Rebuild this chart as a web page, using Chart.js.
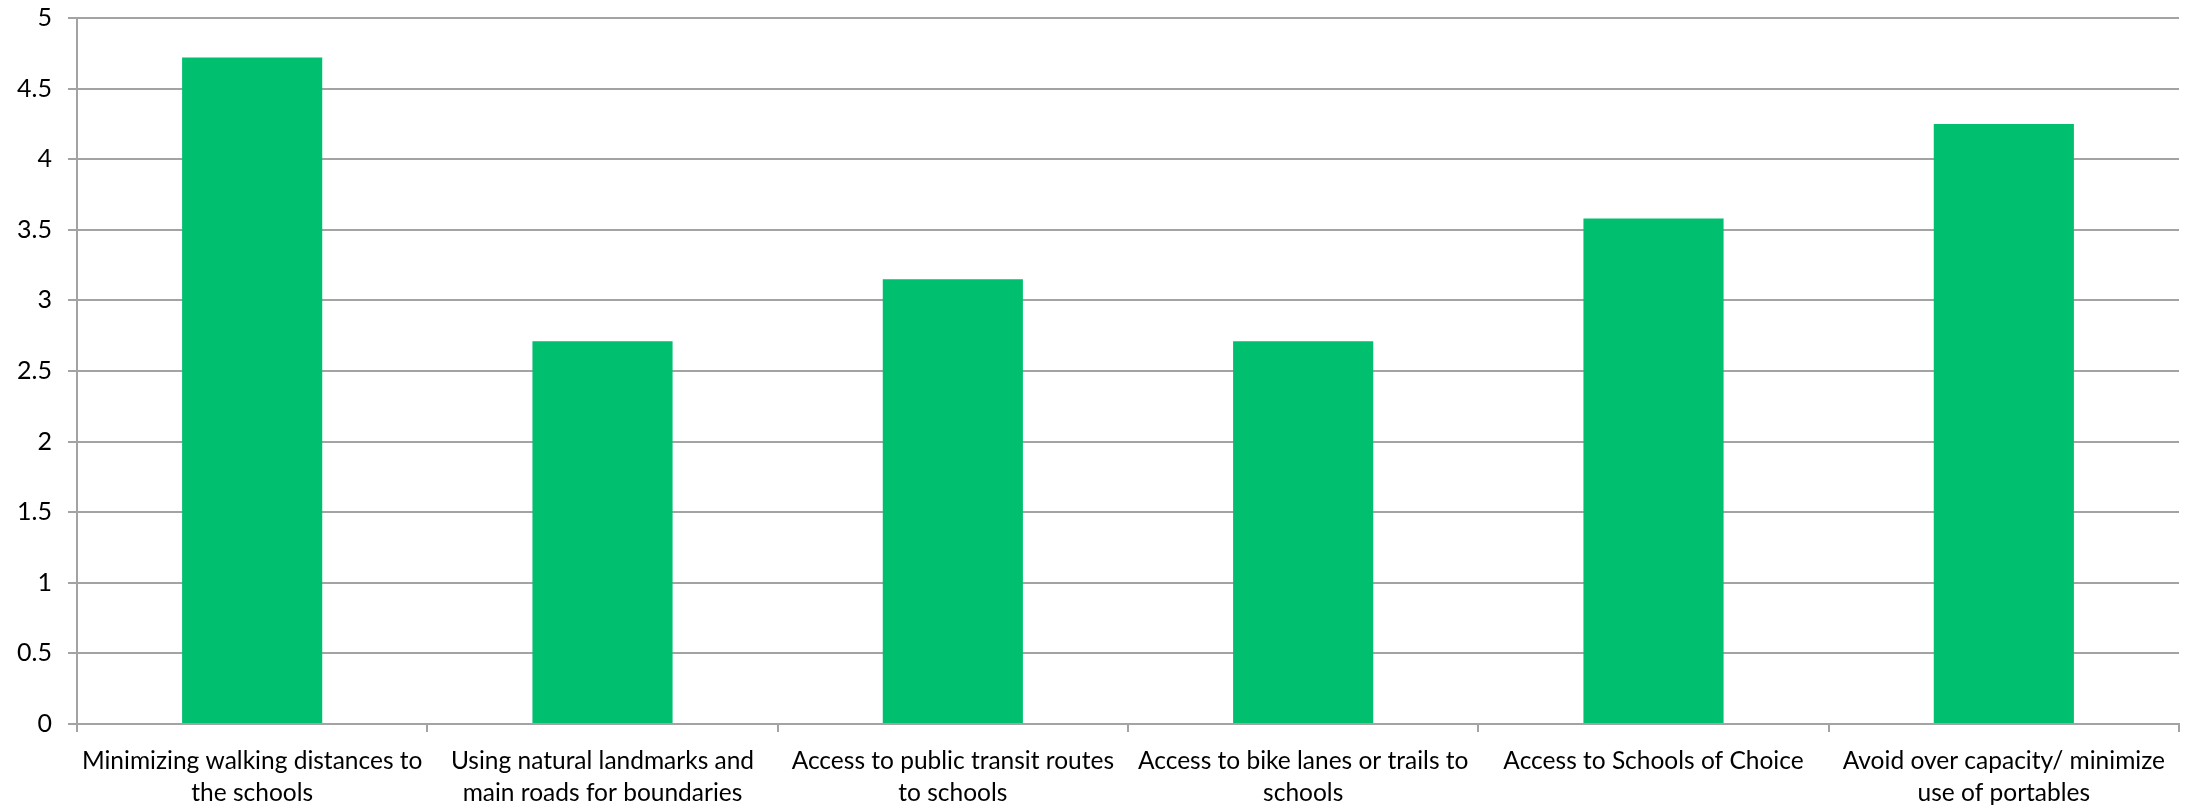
<!DOCTYPE html>
<html>
<head>
<meta charset="utf-8">
<script src="https://cdn.jsdelivr.net/npm/chart.js@4/dist/chart.umd.min.js"></script>
<style>
  html, body { margin: 0; padding: 0; background: #fff; }
  #wrap { width: 2188px; height: 805px; }
</style>
</head>
<body>
<div id="wrap"><canvas id="priorityChart"></canvas></div>
<script>
    // Survey criteria (two lines per label) and their mean ratings
    const criteria = [
        ['Minimizing walking distances to', 'the schools'],
        ['Using natural landmarks and', 'main roads for boundaries'],
        ['Access to public transit routes', 'to schools'],
        ['Access to bike lanes or trails to', 'schools'],
        ['Access to Schools of Choice'],
        ['Avoid over capacity/ minimize', 'use of portables']
    ];
    const ratings = [4.72, 2.71, 3.15, 2.71, 3.58, 4.25];
    const yTicks = [0, 0.5, 1, 1.5, 2, 2.5, 3, 3.5, 4, 4.5, 5];

    const gridGray = '#a3a3a3';
    const fontFamily = 'Lato, "Liberation Sans", sans-serif';

    new Chart(document.getElementById('priorityChart').getContext('2d'), {
        type: 'bar',
        data: {
            labels: criteria,
            datasets: [{
                data: ratings,
                backgroundColor: '#00bf6f',
                barPercentage: 0.4,
                categoryPercentage: 1.0
            }]
        },
        options: {
            responsive: true,
            maintainAspectRatio: false,
            animation: false,
            layout: { padding: { top: 18, right: 9, bottom: 0, left: 0 } },
            plugins: {
                legend: { display: false },
                tooltip: { enabled: false }
            },
            scales: {
                x: {
                    offset: true,
                    border: { color: gridGray, width: 2 },
                    grid: {
                        offset: true,
                        drawOnChartArea: false,
                        color: gridGray,
                        lineWidth: 2,
                        tickLength: 8
                    },
                    ticks: {
                        color: '#000',
                        font: { family: fontFamily, size: 24.5, lineHeight: 1.27 },
                        maxRotation: 0,
                        autoSkip: false,
                        padding: 14
                    },
                    afterFit: (scale) => { scale.height = 81; }
                },
                y: {
                    min: 0,
                    max: 5,
                    border: { color: gridGray, width: 2 },
                    grid: { color: gridGray, lineWidth: 2, tickLength: 9 },
                    afterBuildTicks: (scale) => {
                        scale.ticks = yTicks.map(v => ({ value: v }));
                    },
                    ticks: {
                        color: '#000',
                        font: { family: fontFamily, size: 25 },
                        padding: 16,
                        callback: (v) => String(v)
                    },
                    afterFit: (scale) => {
                        scale.width = 77;
                        // the top label may overhang; keep the plot top at the layout padding
                        scale.paddingTop = 0;
                        scale.paddingBottom = 0;
                    }
                }
            }
        }
    });
</script>
</body>
</html>
